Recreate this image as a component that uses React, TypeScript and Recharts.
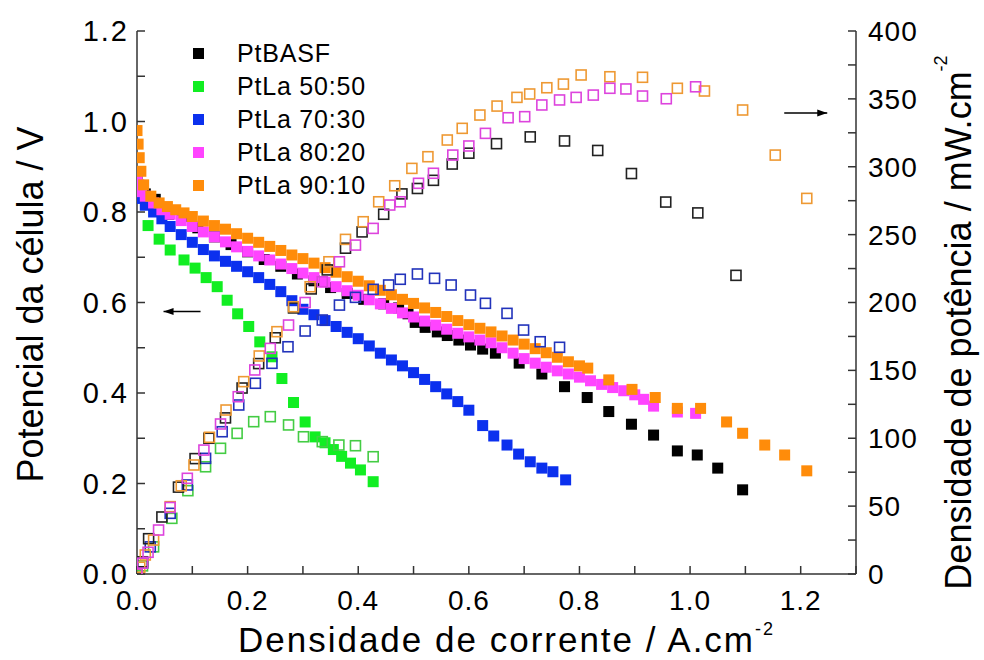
import {
  ScatterChart,
  Scatter,
  XAxis,
  YAxis,
  Legend,
  ReferenceDot,
} from "recharts";

// current density (A/cm2) and cell potential (V), filled squares
const basfI = [0, 0.003, 0.015, 0.033, 0.057, 0.082, 0.11, 0.14, 0.17, 0.2, 0.23, 0.26, 0.29, 0.32, 0.35, 0.38, 0.41, 0.446, 0.473, 0.49, 0.503, 0.521, 0.543, 0.561, 0.582, 0.603, 0.625, 0.648, 0.691, 0.732, 0.773, 0.814, 0.853, 0.894, 0.934, 0.977, 1.013, 1.05, 1.095];
const basfV = [0.87, 0.852, 0.84, 0.828, 0.795, 0.79, 0.765, 0.745, 0.728, 0.712, 0.695, 0.68, 0.663, 0.648, 0.633, 0.62, 0.607, 0.597, 0.588, 0.575, 0.556, 0.545, 0.535, 0.527, 0.517, 0.506, 0.497, 0.488, 0.466, 0.442, 0.414, 0.39, 0.359, 0.331, 0.307, 0.272, 0.263, 0.234, 0.186];

const la50I = [0.02, 0.04, 0.06, 0.085, 0.105, 0.125, 0.145, 0.163, 0.182, 0.202, 0.222, 0.244, 0.262, 0.283, 0.304, 0.322, 0.34, 0.355, 0.37, 0.386, 0.404, 0.427];
const la50V = [0.77, 0.74, 0.716, 0.694, 0.676, 0.655, 0.635, 0.605, 0.575, 0.547, 0.513, 0.48, 0.432, 0.379, 0.336, 0.303, 0.29, 0.275, 0.26, 0.245, 0.23, 0.204];

const la70I = [0, 0.005, 0.015, 0.03, 0.045, 0.06, 0.08, 0.1, 0.12, 0.14, 0.16, 0.18, 0.2, 0.22, 0.24, 0.26, 0.28, 0.3, 0.32, 0.34, 0.36, 0.38, 0.4, 0.42, 0.44, 0.46, 0.48, 0.5, 0.52, 0.54, 0.56, 0.58, 0.6, 0.625, 0.645, 0.669, 0.69, 0.711, 0.732, 0.752, 0.775];
const la70V = [0.85, 0.83, 0.815, 0.8, 0.785, 0.768, 0.75, 0.733, 0.717, 0.703, 0.691, 0.68, 0.668, 0.655, 0.64, 0.624, 0.604, 0.585, 0.573, 0.56, 0.547, 0.534, 0.52, 0.504, 0.488, 0.473, 0.46, 0.445, 0.43, 0.414, 0.398, 0.381, 0.362, 0.328, 0.305, 0.285, 0.265, 0.248, 0.234, 0.226, 0.208];

const la80I = [0, 0.003, 0.008, 0.015, 0.03, 0.045, 0.06, 0.08, 0.1, 0.12, 0.14, 0.16, 0.18, 0.2, 0.22, 0.24, 0.26, 0.28, 0.3, 0.32, 0.34, 0.36, 0.38, 0.4, 0.42, 0.44, 0.46, 0.48, 0.5, 0.52, 0.54, 0.56, 0.58, 0.6, 0.62, 0.64, 0.66, 0.68, 0.7, 0.72, 0.74, 0.76, 0.78, 0.8, 0.82, 0.84, 0.86, 0.88, 0.9, 0.916, 0.934, 0.977, 1.01];
const la80V = [0.88, 0.86, 0.845, 0.835, 0.82, 0.805, 0.795, 0.781, 0.768, 0.756, 0.745, 0.734, 0.723, 0.713, 0.703, 0.694, 0.685, 0.675, 0.665, 0.655, 0.645, 0.635, 0.626, 0.616, 0.606, 0.597, 0.587, 0.577, 0.568, 0.559, 0.55, 0.541, 0.532, 0.524, 0.517, 0.511, 0.5, 0.488, 0.476, 0.466, 0.457, 0.449, 0.442, 0.435, 0.427, 0.419, 0.412, 0.405, 0.396, 0.386, 0.371, 0.358, 0.355];

const la90I = [0, 0.002, 0.004, 0.007, 0.012, 0.025, 0.04, 0.055, 0.07, 0.085, 0.1, 0.12, 0.14, 0.16, 0.18, 0.2, 0.22, 0.24, 0.26, 0.28, 0.3, 0.32, 0.34, 0.36, 0.38, 0.4, 0.42, 0.44, 0.46, 0.48, 0.5, 0.52, 0.54, 0.56, 0.58, 0.6, 0.62, 0.64, 0.66, 0.68, 0.7, 0.72, 0.74, 0.76, 0.78, 0.8, 0.815, 0.853, 0.895, 0.937, 0.977, 1.019, 1.066, 1.095, 1.135, 1.171, 1.211];
const la90V = [0.98, 0.95, 0.92, 0.89, 0.86, 0.835, 0.82, 0.812, 0.805, 0.798, 0.79, 0.78, 0.77, 0.762, 0.752, 0.742, 0.733, 0.724, 0.715, 0.705, 0.697, 0.687, 0.677, 0.667, 0.657, 0.647, 0.637, 0.627, 0.617, 0.607, 0.598, 0.588, 0.578, 0.569, 0.56, 0.551, 0.543, 0.535, 0.526, 0.517, 0.508, 0.498, 0.489, 0.479, 0.469, 0.46, 0.455, 0.429, 0.408, 0.39, 0.366, 0.366, 0.336, 0.311, 0.285, 0.263, 0.228];

// power density (mW/cm2), open squares
const basfPI = [0, 0.01, 0.021, 0.045, 0.075, 0.105, 0.13, 0.16, 0.19, 0.22, 0.25, 0.283, 0.315, 0.344, 0.377, 0.407, 0.446, 0.479, 0.507, 0.536, 0.57, 0.6, 0.65, 0.711, 0.773, 0.833, 0.894, 0.956, 1.014, 1.083];
const basfP = [0, 9, 26, 42, 64, 85, 100, 115, 137, 155, 174, 196, 210, 224, 240, 252, 265, 280, 284, 290, 302, 310, 317, 322, 319, 312, 295, 274, 266, 220];

const la50PI = [0, 0.01, 0.03, 0.063, 0.092, 0.124, 0.151, 0.181, 0.211, 0.241, 0.274, 0.301, 0.335, 0.365, 0.395, 0.427];
const la50P = [0, 6, 20, 41, 61.4, 79, 92.6, 103.6, 112.2, 115.9, 109.8, 101.1, 97.5, 95, 94.5, 86.4];

const la70PI = [0, 0.01, 0.024, 0.06, 0.091, 0.124, 0.154, 0.184, 0.214, 0.244, 0.273, 0.304, 0.335, 0.366, 0.395, 0.427, 0.455, 0.476, 0.507, 0.538, 0.568, 0.603, 0.63, 0.669, 0.699, 0.729, 0.764];
const la70P = [0, 8, 20, 44.7, 65.6, 85.2, 104.8, 124.5, 140.5, 155.2, 167.4, 179, 187.1, 198.1, 203.8, 209.7, 212.9, 217.1, 221, 217.8, 212.9, 205.5, 199.4, 192, 179.7, 171.1, 167];

const la80PI = [0, 0.01, 0.02, 0.039, 0.06, 0.091, 0.121, 0.151, 0.183, 0.213, 0.241, 0.274, 0.304, 0.335, 0.366, 0.395, 0.427, 0.457, 0.476, 0.509, 0.536, 0.571, 0.6, 0.63, 0.671, 0.701, 0.732, 0.764, 0.794, 0.825, 0.855, 0.884, 0.914, 0.957, 1.01];
const la80P = [0, 8, 16, 32.4, 49, 70.5, 91.3, 110.5, 130.6, 150.3, 166.2, 183.4, 200, 215.3, 230, 242.3, 254.6, 271.8, 274.2, 287.8, 295.2, 308.6, 315.3, 324.6, 336.1, 336.9, 345.5, 349.2, 351.1, 352.8, 357.8, 357.3, 352.1, 350.1, 358.9];

const la90PI = [0, 0.005, 0.015, 0.03, 0.06, 0.08, 0.103, 0.131, 0.161, 0.193, 0.221, 0.253, 0.283, 0.313, 0.347, 0.377, 0.409, 0.437, 0.466, 0.497, 0.526, 0.561, 0.588, 0.62, 0.651, 0.687, 0.71, 0.741, 0.771, 0.803, 0.855, 0.914, 0.977, 1.026, 1.095, 1.154, 1.211];
const la90P = [0, 5, 14, 25, 49.6, 65, 80.3, 100.7, 120.8, 141.7, 160.6, 178.5, 196.9, 211.6, 230, 246.5, 259.5, 274.2, 286, 298.8, 307.4, 319.7, 328.3, 338.1, 344.7, 351.1, 353.6, 358.2, 360.9, 367.6, 366.3, 365.9, 357.8, 355.8, 341.8, 308.6, 276.7];

const seriesNames = ["PtBASF", "PtLa 50:50", "PtLa 70:30", "PtLa 80:20", "PtLa 90:10"];
const fillColors = ["#000000", "#11ee22", "#0b30ee", "#ff44ff", "#ff8c0a"];
const openColors = ["#222222", "#44cc44", "#2233bb", "#dd44dd", "#ee9933"];

const xTicks = [0, 0.1, 0.2, 0.3, 0.4, 0.5, 0.6, 0.7, 0.8, 0.9, 1.0, 1.1, 1.2, 1.3];
const vTicks = [0, 0.1, 0.2, 0.3, 0.4, 0.5, 0.6, 0.7, 0.8, 0.9, 1.0, 1.1, 1.2];
const pTicks = [0, 25, 50, 75, 100, 125, 150, 175, 200, 225, 250, 275, 300, 325, 350, 375, 400];

const zip = (xs: number[], ys: number[]) => xs.map((x, i) => ({ x, y: ys[i] }));

const filledSets = [
  zip(basfI, basfV),
  zip(la50I, la50V),
  zip(la70I, la70V),
  zip(la80I, la80V),
  zip(la90I, la90V),
];
const openSets = [
  zip(basfPI, basfP),
  zip(la50PI, la50P),
  zip(la70PI, la70P),
  zip(la80PI, la80P),
  zip(la90PI, la90P),
];

const AX = "#333";
const FONT = "'Liberation Sans', Arial, sans-serif";

const filledSq = (color: string) => (p: any) =>
  <rect x={p.cx - 5.5} y={p.cy - 5.5} width={11} height={11} fill={color} />;
const openSq = (color: string) => (p: any) =>
  <rect x={p.cx - 5} y={p.cy - 5} width={10} height={10} fill="none" stroke={color} strokeWidth={1.6} />;

const evenTenth = (v: number) => (Math.round(v * 10) % 2 === 0 ? v.toFixed(1) : "");

const LegendBox = () => (
  <div style={{ fontFamily: FONT, fontSize: 25, lineHeight: "33px", color: "#000" }}>
    {seriesNames.map((n, i) => (
      <div key={n} style={{ display: "flex", alignItems: "center" }}>
        <span style={{ width: 11, height: 11, background: fillColors[i], display: "inline-block", marginRight: 33 }} />
        <span style={{ letterSpacing: 0.8 }}>{n}</span>
      </div>
    ))}
  </div>
);

const arrowLeft = (p: any) => (
  <g>
    <line x1={p.cx} y1={p.cy} x2={p.cx + 37} y2={p.cy} stroke="#000" strokeWidth={1.5} />
    <polygon points={`${p.cx},${p.cy} ${p.cx + 10},${p.cy - 3.5} ${p.cx + 10},${p.cy + 3.5}`} fill="#000" />
  </g>
);
const arrowRight = (p: any) => (
  <g>
    <line x1={p.cx - 43} y1={p.cy} x2={p.cx} y2={p.cy} stroke="#000" strokeWidth={1.5} />
    <polygon points={`${p.cx},${p.cy} ${p.cx - 10},${p.cy - 3.5} ${p.cx - 10},${p.cy + 3.5}`} fill="#000" />
  </g>
);

export default function App() {
  return (
    <div style={{ position: "absolute", left: 0, top: 0, background: "#fff", fontFamily: FONT }}>
      <ScatterChart width={984} height={660} margin={{ top: 31, right: 68, bottom: 26, left: 57 }}>
        <XAxis
          type="number"
          dataKey="x"
          domain={[0, 1.3]}
          ticks={xTicks}
          tickFormatter={evenTenth}
          tickSize={-8}
          tickMargin={24}
          height={60}
          stroke={AX}
          strokeWidth={1.5}
          tick={{ fill: "#000", fontSize: 28, letterSpacing: 1 }}
          allowDataOverflow
          label={(props: any) => {
            const vb = props.viewBox;
            return (
              <text x={vb.x + vb.width / 2 + 10} y={vb.y + 78} textAnchor="middle" fontSize={35} letterSpacing={2} fill="#000">
                Densidade de corrente / A.cm
                <tspan dy={-17} fontSize={18}>-2</tspan>
              </text>
            );
          }}
        />
        <XAxis
          xAxisId="top"
          orientation="top"
          type="number"
          domain={[0, 1.3]}
          ticks={xTicks}
          tick={false}
          tickSize={-8}
          height={0}
          stroke={AX}
          strokeWidth={1.5}
          allowDataOverflow
        />
        <YAxis
          yAxisId="left"
          type="number"
          dataKey="y"
          domain={[0, 1.2]}
          ticks={vTicks}
          tickFormatter={evenTenth}
          tickSize={-8}
          tickMargin={16}
          width={80}
          stroke={AX}
          strokeWidth={1.5}
          tick={{ fill: "#000", fontSize: 29, letterSpacing: 2 }}
          allowDataOverflow
          label={(props: any) => {
            const vb = props.viewBox;
            const cx = vb.x - 27;
            const cy = vb.y + vb.height / 2 + 2;
            return (
              <text x={cx} y={cy} transform={`rotate(-90 ${cx} ${cy})`} textAnchor="middle" dominantBaseline="central" fontSize={36} fill="#000">
                Potencial da célula / V
              </text>
            );
          }}
        />
        <YAxis
          yAxisId="right"
          orientation="right"
          type="number"
          dataKey="y"
          domain={[0, 400]}
          ticks={pTicks}
          tickFormatter={(v: number) => (v % 50 === 0 ? String(v) : "")}
          tickSize={-8}
          tickMargin={20}
          width={60}
          stroke={AX}
          strokeWidth={1.5}
          tick={{ fill: "#000", fontSize: 28, letterSpacing: 1 }}
          allowDataOverflow
          label={(props: any) => {
            const vb = props.viewBox;
            const cx = vb.x + 102;
            const cy = vb.y + vb.height / 2 + 20;
            return (
              <text x={cx} y={cy} transform={`rotate(-90 ${cx} ${cy})`} textAnchor="middle" dominantBaseline="central" fontSize={36} fill="#000">
                Densidade de potência / mW.cm
                <tspan dy={-17} fontSize={18}>-2</tspan>
              </text>
            );
          }}
        />
        <Legend
          layout="vertical"
          align="center"
          verticalAlign="middle"
          content={() => <LegendBox />}
          wrapperStyle={{ top: 37, left: 193, width: 220 }}
        />
        {filledSets.map((d, i) => (
          <Scatter
            key={"f" + i}
            name={seriesNames[i]}
            data={d}
            yAxisId="left"
            shape={filledSq(fillColors[i])}
            isAnimationActive={false}
          />
        ))}
        {[1, 2, 0, 4, 3].map((i) => (
          <Scatter
            key={"o" + i}
            name={seriesNames[i] + " P"}
            data={openSets[i]}
            yAxisId="right"
            shape={openSq(openColors[i])}
            isAnimationActive={false}
            legendType="none"
          />
        ))}
        <ReferenceDot x={0.048} y={0.58} yAxisId="left" shape={arrowLeft} />
        <ReferenceDot x={1.248} y={1.019} yAxisId="left" shape={arrowRight} />
      </ScatterChart>
    </div>
  );
}
